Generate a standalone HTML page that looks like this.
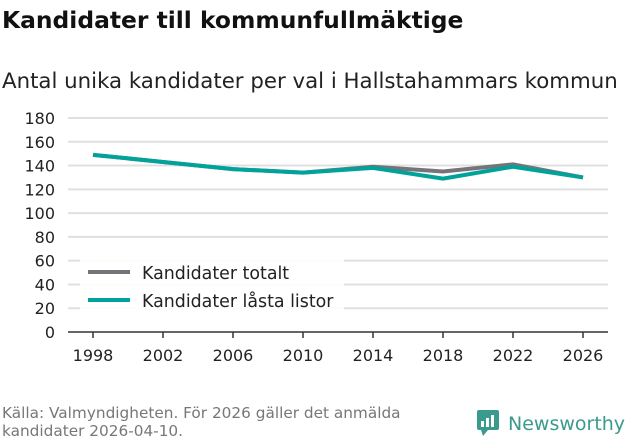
<!DOCTYPE html>
<html><head><meta charset="utf-8"><style>
body{margin:0;background:#fff;font-family:"DejaVu Sans","Liberation Sans",sans-serif;}
svg{display:block}
</style></head><body>
<svg id="chart" width="631" height="439">
<text x="2" y="28" font-size="23.4" font-weight="bold" fill="#111">Kandidater till kommunfullmäktige</text>
<text x="2" y="88" font-size="21.3" fill="#222">Antal unika kandidater per val i Hallstahammars kommun</text>
<g id="grid"></g><g id="lines"></g>
<g>
<rect x="80" y="258" width="264" height="62" fill="#fff" opacity="0.9"/>
<line x1="88" y1="272" x2="130" y2="272" stroke="#77737a" stroke-width="4"/>
<text x="142" y="279" font-size="17.4" fill="#222">Kandidater totalt</text>
<line x1="88" y1="300" x2="130" y2="300" stroke="#00a39a" stroke-width="4"/>
<text x="142" y="307" font-size="17.4" fill="#222">Kandidater låsta listor</text>
</g>
<text x="2" y="418" font-size="15.3" fill="#777">Källa: Valmyndigheten. För 2026 gäller det anmälda</text>
<text x="2" y="436" font-size="15.3" fill="#777">kandidater 2026-04-10.</text>
<g>
<rect x="477" y="410" width="22" height="20" rx="2" fill="#3a9a8e"/>
<polygon points="481,430 488,430 483,436" fill="#3a9a8e"/>
<rect x="481" y="421" width="3" height="6" fill="#fff"/><rect x="486" y="418" width="3" height="9" fill="#fff"/><rect x="491" y="415" width="3" height="12" fill="#fff"/>
<text x="508" y="430" font-size="19" fill="#3a9a8e">Newsworthy</text>
</g>
</svg>
<script>
const years=[1998,2002,2006,2010,2014,2018,2022,2026];
const totalt=[149,143,137,134,139,135,141,130];
const lasta=[149,143,137,134,138,129,139,130];
const yTicks=[0,20,40,60,80,100,120,140,160,180];
const NS="http://www.w3.org/2000/svg";
const x=v=>93+(v-1998)*17.5;
const y=v=>332-v*1.189;
const grid=document.getElementById('grid'),lines=document.getElementById('lines');
function mk(t,a,p){const e=document.createElementNS(NS,t);for(const k in a)e.setAttribute(k,a[k]);p.appendChild(e);return e;}
yTicks.forEach(t=>{
 const l=mk('line',{x1:68,x2:608,y1:y(t),y2:y(t),stroke:t===0?'#333':'#e0e0e0','stroke-width':t===0?1.5:2},grid);
 
 
 const tx=mk('text',{x:55,y:y(t)+6,'font-size':16,fill:'#222','text-anchor':'end'},grid);tx.textContent=t;
 
 
});
years.forEach(yr=>{
 const tk=mk('line',{x1:x(yr),x2:x(yr),y1:332,y2:338,stroke:'#333','stroke-width':1.5},grid);
 
 
 const tx=mk('text',{x:x(yr),y:361,'font-size':16,fill:'#222','text-anchor':'middle'},grid);tx.textContent=yr;
 
 
});
function series(vals,col,name){
 const p=mk('polyline',{points:vals.map((v,i)=>x(years[i])+','+y(v)).join(' '),fill:'none',stroke:col,'stroke-width':4,'stroke-linejoin':'round'},lines);
 
 
}
series(totalt,'#77737a','series-totalt');
series(lasta,'#00a39a','series-lasta');
</script>
</body></html>
